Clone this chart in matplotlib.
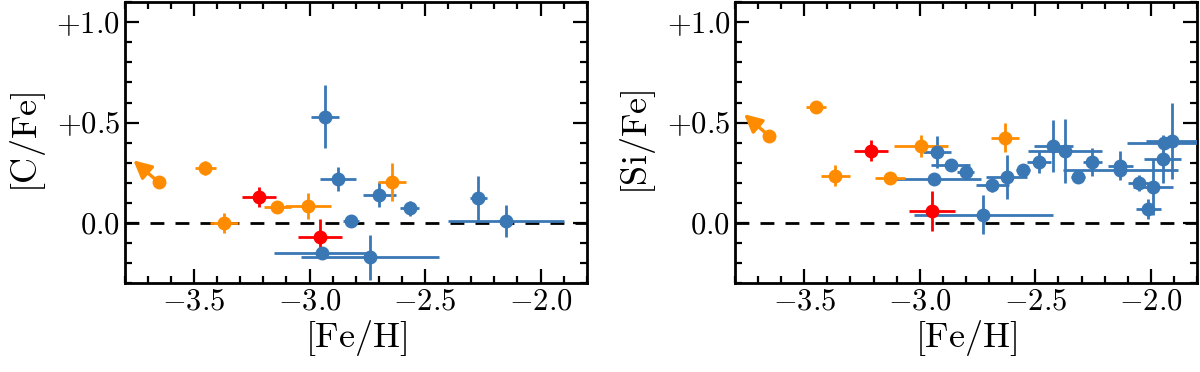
import matplotlib
matplotlib.use("Agg")
import matplotlib.pyplot as plt
import numpy as np
from matplotlib.ticker import MultipleLocator, FuncFormatter

plt.rcParams['mathtext.fontset'] = 'cm'
plt.rcParams['font.family'] = 'serif'
plt.rcParams['font.serif'] = ['cmr10']

BLUE = '#3a78b5'
ORANGE = '#ff8c00'
RED = '#ff0000'

# ---- [C/Fe] panel ----
c_blue_x = [-2.945, -2.934, -2.877, -2.820, -2.739, -2.698, -2.567, -2.269, -2.150]
c_blue_y = [-0.152, 0.530, 0.219, 0.008, -0.171, 0.141, 0.073, 0.123, 0.008]
c_blue_xe = [0.21, 0.06, 0.08, 0.035, 0.30, 0.07, 0.04, 0.035, 0.25]
c_blue_ye = [0.0, 0.155, 0.06, 0.0, 0.113, 0.062, 0.037, 0.11, 0.08]

c_orange_x = [-3.452, -3.371, -3.139, -3.006, -2.644]
c_orange_y = [0.274, -0.002, 0.078, 0.086, 0.206]
c_orange_xe = [0.045, 0.06, 0.06, 0.10, 0.06]
c_orange_ye = [0.035, 0.05, 0.0, 0.065, 0.095]

c_red_x = [-3.218, -2.956]
c_red_y = [0.128, -0.068]
c_red_xe = [0.073, 0.095]
c_red_ye = [0.05, 0.085]

c_limit = (-3.653, 0.202)

# ---- [Si/Fe] panel ----
si_blue_x = [-2.925, -2.937, -2.867, -2.802, -2.725, -2.686, -2.624, -2.554, -2.484,
             -2.422, -2.371, -2.315, -2.253, -2.133, -2.132, -2.050, -1.992, -2.011,
             -1.949, -1.944, -1.910]
si_blue_y = [0.352, 0.219, 0.291, 0.252, 0.040, 0.189, 0.227, 0.264, 0.302,
             0.382, 0.360, 0.231, 0.302, 0.286, 0.264, 0.197, 0.178, 0.070,
             0.319, 0.400, 0.410]
si_blue_xe = [0.06, 0.20, 0.083, 0.035, 0.30, 0.07, 0.09, 0.03, 0.05,
              0.085, 0.16, 0.03, 0.04, 0.054, 0.25, 0.047, 0.087, 0.053,
              0.081, 0.16, 0.11]
si_blue_ye = [0.08, 0.0, 0.0, 0.04, 0.097, 0.037, 0.11, 0.0, 0.054,
              0.13, 0.16, 0.0, 0.07, 0.07, 0.0, 0.04, 0.14, 0.05,
              0.12, 0.0, 0.19]

si_orange_x = [-3.449, -3.365, -3.130, -2.994, -2.632]
si_orange_y = [0.576, 0.236, 0.222, 0.382, 0.424]
si_orange_xe = [0.045, 0.064, 0.065, 0.116, 0.06]
si_orange_ye = [0.02, 0.054, 0.0, 0.055, 0.072]

si_red_x = [-3.210, -2.947]
si_red_y = [0.360, 0.061]
si_red_xe = [0.074, 0.10]
si_red_ye = [0.053, 0.10]

si_limit = (-3.651, 0.432)

arrow_d = (-0.11, 0.11)


def fmt_x(v, pos):
    return r'$%.1f$' % v if v >= 0 else r'$-%.1f$' % abs(v)


def fmt_y(v, pos):
    if abs(v) < 1e-9:
        return r'$0.0$'
    if v > 0:
        return r'$+%.1f$' % v
    return r'$-%.1f$' % abs(v)


def draw_panel(ax, groups, limit, ylabel):
    ax.axhline(0, color='black', ls=(0, (5, 4)), lw=2, zorder=1)
    for x, y, xe, ye, col in groups:
        ax.errorbar(x, y, xerr=xe, yerr=ye, fmt='o', color=col, ms=9,
                    elinewidth=2, capsize=0, zorder=3)
    ax.plot(limit[0], limit[1], 'o', color=ORANGE, ms=9, zorder=3)
    ax.annotate('', xy=(limit[0] + arrow_d[0], limit[1] + arrow_d[1]), xytext=limit,
                arrowprops=dict(arrowstyle='-|>', color=ORANGE, lw=2.4,
                                mutation_scale=27, shrinkA=0, shrinkB=0), zorder=3)
    ax.set_xlim(-3.8, -1.8)
    ax.set_ylim(-0.3, 1.1)
    ax.set_xticks([-3.5, -3.0, -2.5, -2.0])
    ax.set_yticks([0.0, 0.5, 1.0])
    ax.xaxis.set_minor_locator(MultipleLocator(0.1))
    ax.yaxis.set_minor_locator(MultipleLocator(0.1))
    ax.xaxis.set_major_formatter(FuncFormatter(fmt_x))
    ax.yaxis.set_major_formatter(FuncFormatter(fmt_y))
    ax.tick_params(which='both', direction='in', top=True, right=True, width=1.6,
                   labelsize=22)
    ax.tick_params(which='major', length=10)
    ax.tick_params(which='minor', length=5)
    for sp in ax.spines.values():
        sp.set_linewidth(2)
    ax.set_xlabel(r'$\mathrm{[Fe/H]}$', fontsize=26, labelpad=2)
    ax.set_ylabel(ylabel, fontsize=26, labelpad=6)


fig = plt.figure(figsize=(12, 3.72), dpi=100)
ax1 = fig.add_axes([0.104, 0.239, 0.385, 0.755])
ax2 = fig.add_axes([0.6125, 0.239, 0.385, 0.755])

draw_panel(ax1, [
    (c_blue_x, c_blue_y, c_blue_xe, c_blue_ye, BLUE),
    (c_orange_x, c_orange_y, c_orange_xe, c_orange_ye, ORANGE),
    (c_red_x, c_red_y, c_red_xe, c_red_ye, RED),
], c_limit, r'$\mathrm{[C/Fe]}$')

draw_panel(ax2, [
    (si_blue_x, si_blue_y, si_blue_xe, si_blue_ye, BLUE),
    (si_orange_x, si_orange_y, si_orange_xe, si_orange_ye, ORANGE),
    (si_red_x, si_red_y, si_red_xe, si_red_ye, RED),
], si_limit, r'$\mathrm{[Si/Fe]}$')

fig.savefig('out.png', dpi=100)
